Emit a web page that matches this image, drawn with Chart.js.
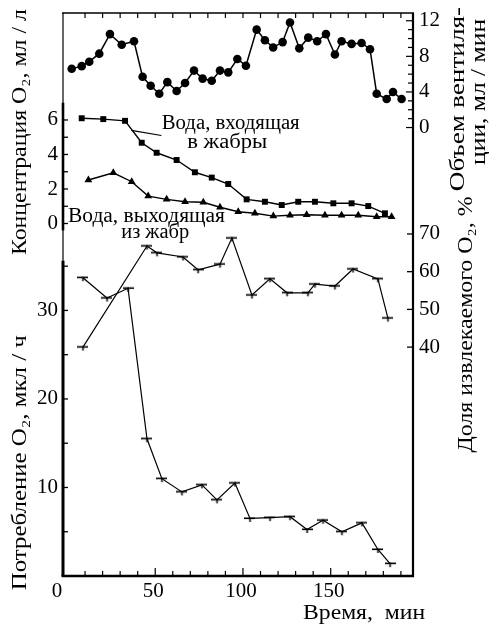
<!DOCTYPE html>
<html><head><meta charset="utf-8">
<script src="https://cdn.jsdelivr.net/npm/chart.js@4.4.1/dist/chart.umd.min.js"></script>
<style>html,body{margin:0;padding:0;background:#fff;overflow:hidden}canvas{display:block}</style>
</head><body>
<canvas id="c" width="489" height="630"></canvas>
<script>
// ---- data (time in minutes) ----
const ventTime   = [2.4, 8.1, 12.4, 18.1, 24.2, 30.9, 37.9, 42.8, 47.4, 52.3, 56.9, 62.2, 67.0, 72.1, 77.0, 82.2, 86.9, 91.6, 96.8, 101.7, 107.8, 112.5, 117.2, 122.6, 126.8, 132.1, 137.2, 142.3, 147.3, 152.4, 156.2, 161.9, 167.6, 172.4, 176.2, 181.9, 185.5, 190.4];
const ventValues = [6.6, 6.9, 7.4, 8.3, 10.5, 9.3, 9.7, 5.7, 4.7, 3.8, 5.1, 4.1, 5.0, 6.4, 5.5, 5.25, 6.4, 6.2, 7.7, 6.95, 11.0, 9.8, 9.0, 9.6, 11.8, 8.9, 10.1, 9.7, 10.5, 8.2, 9.7, 9.4, 9.5, 8.8, 3.8, 3.2, 4.0, 3.2];

const inTime   = [8.1, 20.4, 32.8, 42.3, 50.8, 62.2, 72.6, 82.2, 91.6, 102.1, 112.5, 122.1, 131.5, 141.0, 151.5, 161.9, 171.4, 180.9];
const inValues = [6.1, 6.05, 5.95, 4.68, 4.10, 3.68, 2.97, 2.66, 2.29, 1.40, 1.26, 1.07, 1.26, 1.26, 1.17, 1.17, 1.01, 0.59];

const outTime   = [11.9, 26.1, 36.6, 46.0, 56.5, 67.0, 77.4, 86.9, 97.3, 106.8, 117.3, 126.8, 136.3, 146.7, 156.2, 165.7, 176.2, 184.7];
const outValues = [2.52, 2.94, 2.42, 1.59, 1.40, 1.26, 1.23, 0.94, 0.68, 0.59, 0.43, 0.48, 0.51, 0.48, 0.48, 0.48, 0.39, 0.39];

const consTime   = [8.8, 22.5, 34.5, 45.3, 53.8, 65.2, 76.6, 85.2, 95.4, 104.0, 115.4, 126.8, 136.5, 145.6, 156.4, 167.8, 176.9, 183.8];
const consValues = [33.7, 31.4, 32.5, 15.5, 11.0, 9.5, 10.3, 8.6, 10.5, 6.5, 6.6, 6.7, 5.25, 6.3, 5.0, 6.0, 3.0, 1.4];

const extrTime   = [8.8, 45.3, 51.0, 65.8, 74.4, 86.9, 93.7, 105.1, 115.4, 125.1, 137.0, 141.0, 152.4, 162.7, 176.9, 182.6];
const extrValues = [40.0, 66.8, 65.0, 63.9, 60.5, 62.0, 68.9, 53.8, 58.1, 54.4, 54.4, 56.7, 56.2, 60.7, 58.1, 47.7];

// ---- tick labels ----
const xTickLabels    = [50, 100, 150];
const concTickLabels = [0, 2, 4, 6];
const consTickLabels = [10, 20, 30];
const ventTickLabels = [0, 4, 8, 12];
const extrTickLabels = [40, 50, 60, 70];

const FONT = '"Liberation Serif", "DejaVu Serif", serif';

function pts(xs, ys) { return xs.map((x, i) => ({ x: x, y: ys[i] })); }

function makeT() {
  const c = document.createElement('canvas');
  c.width = 11; c.height = 11;
  const g = c.getContext('2d');
  g.fillStyle = '#000';
  g.fillRect(0, 4.5, 11, 1.6);
  g.fillRect(4.8, 4.5, 1.5, 4.5);
  return c;
}
const tMark = makeT();

function ds(data, axis, style, radius, bw) {
  return {
    data: data, yAxisID: axis, pointStyle: style, pointRadius: radius,
    pointBackgroundColor: '#000', pointBorderColor: '#000', pointBorderWidth: 0,
    borderColor: '#000', borderWidth: bw, tension: 0, fill: false
  };
}

const axesPlugin = {
  id: 'axesPlugin',
  afterDraw(chart) {
    const { ctx, chartArea: a, scales: s } = chart;
    const X = s.x, C = s.yCons, K = s.yConc, V = s.yVent, E = s.yExtr;
    ctx.save();
    ctx.strokeStyle = '#000';
    ctx.fillStyle = '#000';
    const line = (x1, y1, x2, y2, w) => {
      ctx.lineWidth = w; ctx.beginPath(); ctx.moveTo(x1, y1); ctx.lineTo(x2, y2); ctx.stroke();
    };
    // text drawn with a target length (scaled along its direction)
    const text = (t, x, y, target, rotated) => {
      ctx.save(); ctx.translate(x, y);
      if (rotated) ctx.rotate(-Math.PI / 2);
      const w = ctx.measureText(t).width;
      let k = target ? target / w : 1;
      k = Math.max(0.85, Math.min(1.3, k));
      ctx.scale(k, 1);
      ctx.textAlign = 'center'; ctx.textBaseline = 'middle';
      ctx.fillText(t, 0, 0);
      ctx.restore();
    };
    // frame
    line(a.left - 1, a.top, a.right + 1, a.top, 1.6);
    line(a.left, a.top, a.left, a.bottom, 1.2);
    line(a.right, a.top, a.right, a.bottom + 1, 2.2);
    line(a.left - 1.5, a.bottom, a.right + 1, a.bottom, 2.6);
    // left thick segments
    line(a.left, K.getPixelForValue(7.0), a.left, K.getPixelForValue(-0.4), 2.6);
    line(a.left, C.getPixelForValue(35.6), a.left, a.bottom, 3);

    // x ticks
    for (let v = 10; v <= 190; v += 10) {
      const px = X.getPixelForValue(v);
      const L = v % 50 === 0 ? 8 : 5;
      line(px, a.bottom, px, a.bottom - L, 1.2);
      line(px, a.top, px, a.top + 5, 1.2);
    }
    // concentration ticks
    for (let v = 0; v <= 6; v += 1) {
      const py = K.getPixelForValue(v);
      line(a.left, py, a.left + 5, py, 1.3);
    }
    // consumption ticks
    for (let v = 5; v <= 35; v += 5) {
      const py = C.getPixelForValue(v);
      line(a.left, py, a.left + 5, py, 1.3);
    }
    // ventilation ticks
    for (let v = 0; v <= 12; v += 1) {
      const py = V.getPixelForValue(v);
      const L = v % 4 === 0 ? 7 : 5;
      line(a.right, py, a.right - L, py, 1.2);
    }
    // extraction ticks
    extrTickLabels.forEach(v => {
      const py = E.getPixelForValue(v);
      line(a.right, py, a.right - 6, py, 1.3);
    });

    // tick labels
    ctx.font = '21px ' + FONT;
    ctx.textBaseline = 'middle';
    ctx.textAlign = 'center';
    xTickLabels.forEach(v => ctx.fillText(String(v), X.getPixelForValue(v) - 2, a.bottom + 15));
    ctx.fillText('0', a.left - 6, a.bottom + 15);
    ctx.textAlign = 'right';
    concTickLabels.forEach(v => ctx.fillText(String(v), a.left - 5, K.getPixelForValue(v)));
    consTickLabels.forEach(v => ctx.fillText(String(v), a.left - 5, C.getPixelForValue(v)));
    ctx.textAlign = 'left';
    ventTickLabels.forEach(v => ctx.fillText(String(v), a.right + 6, V.getPixelForValue(v)));
    extrTickLabels.forEach(v => ctx.fillText(String(v), a.right + 6, E.getPixelForValue(v)));

    // axis titles
    ctx.font = '21px ' + FONT;
    text('Концентрация O\u2082, мл / л', a.left - 43, K.getPixelForValue(5.3), 246, true);
    text('Потребление O\u2082, мкл / ч', a.left - 43, C.getPixelForValue(12.8), 255, true);
    text('Объем вентиля-', a.right + 45, V.getPixelForValue(3.2), 186, true);
    text('ции, мл / мин', a.right + 66, V.getPixelForValue(4.0), 146, true);
    text('Доля извлекаемого O\u2082, %', a.right + 53, E.getPixelForValue(46), 256, true);
    text('Время,  мин', X.getPixelForValue(169), a.bottom + 37, 122, false);

    // annotations
    ctx.font = '20px ' + FONT;
    text('Вода, входящая', X.getPixelForValue(93), K.getPixelForValue(5.8), 138, false);
    text('в жабры', X.getPixelForValue(91), K.getPixelForValue(4.7), 80, false);
    line(X.getPixelForValue(36.4), K.getPixelForValue(5.4), X.getPixelForValue(53.5), K.getPixelForValue(5.1), 1.2);
    text('Вода, выходящая', X.getPixelForValue(45), K.getPixelForValue(0.4), 157, false);
    text('из жабр', X.getPixelForValue(50), K.getPixelForValue(-0.55), 68, false);
    ctx.restore();
  }
};

new Chart(document.getElementById('c'), {
  type: 'line',
  data: {
    datasets: [
      ds(pts(ventTime, ventValues), 'yVent', 'circle', 4.3, 1.5),
      ds(pts(inTime, inValues), 'yConc', 'rect', 4.2, 1.4),
      ds(pts(outTime, outValues), 'yConc', 'triangle', 4.5, 1.4),
      ds(pts(consTime, consValues), 'yCons', tMark, 5, 1.2),
      ds(pts(extrTime, extrValues), 'yExtr', tMark, 5, 1.2)
    ]
  },
  options: {
    responsive: false,
    animation: false,
    devicePixelRatio: 1,
    layout: { padding: { left: 63, right: 76, top: 13, bottom: 54 } },
    plugins: { legend: { display: false }, tooltip: { enabled: false } },
    scales: {
      x:     { type: 'linear', min: -2.56, max: 196.9, display: false },
      yCons: { type: 'linear', position: 'left',  min: 0,      max: 63.6,  display: false },
      yConc: { type: 'linear', position: 'left',  min: -20.43, max: 12.2,  display: false },
      yVent: { type: 'linear', position: 'right', min: -50.39, max: 12.87, display: false },
      yExtr: { type: 'linear', position: 'right', min: -20.7,  max: 128.6, display: false }
    }
  },
  plugins: [axesPlugin]
});
</script>
</body></html>
